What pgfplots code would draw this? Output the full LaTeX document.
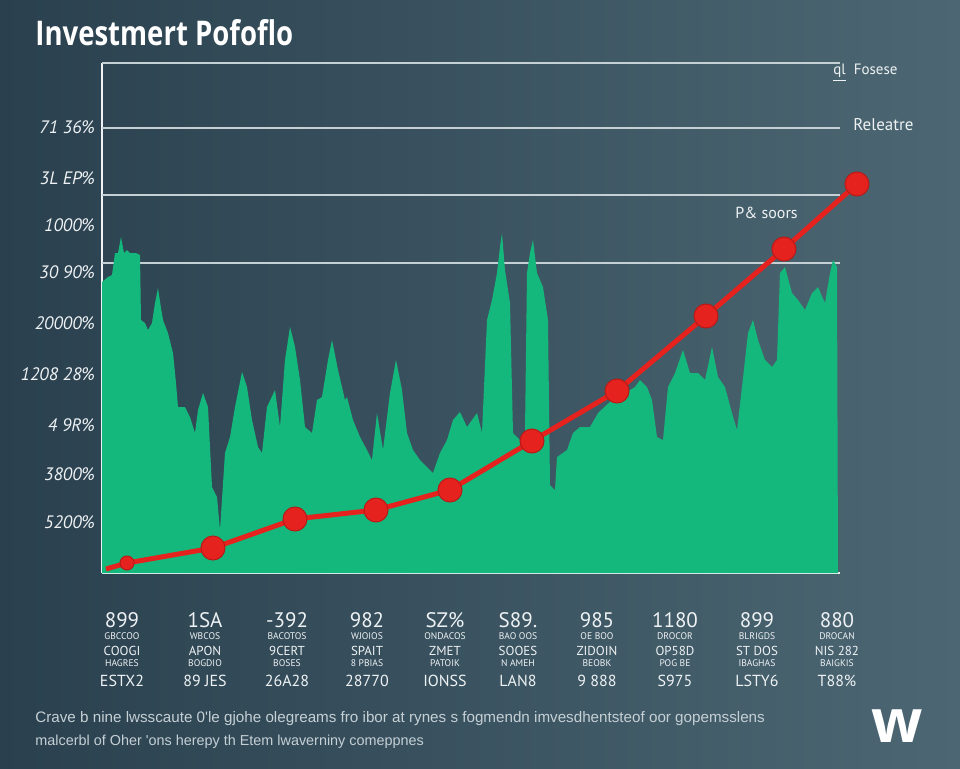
\documentclass[border=0pt]{standalone}
\usepackage{fontspec}
\setmainfont{PT Sans}
\newfontfamily\titlefont{Open Sans}
\newfontfamily\footfont{Liberation Sans}
\usepackage{pgfplots}
\pgfplotsset{compat=1.18}
\definecolor{bgL}{HTML}{2A404E}
\definecolor{bgR}{HTML}{4C6773}
\definecolor{grn}{HTML}{14B87C}
\definecolor{rd}{HTML}{E5221E}
\definecolor{grd}{HTML}{C5D0D5}
\definecolor{txt}{HTML}{EEF2F4}
\newcommand{\xl}[5]{\vbox{\offinterlineskip\halign{\hfil##\hfil\cr
\fontsize{10.5}{10.5}\selectfont #1\cr\noalign{\kern5.75pt}
\smash{\fontsize{4.8}{4.8}\selectfont #2}\cr\noalign{\kern8pt}
\smash{\fontsize{6.5}{6.5}\selectfont #3}\cr\noalign{\kern5.5pt}
\smash{\fontsize{4.8}{4.8}\selectfont #4}\cr\noalign{\kern9.75pt}
\smash{\fontsize{8}{8}\selectfont #5}\cr}}}
\begin{document}
\begin{tikzpicture}
\shade[left color=bgL, right color=bgR] (0,0) rectangle (480pt,384pt);
\begin{axis}[
  at={(51pt,97.5pt)}, anchor=south west,
  width=369pt, height=255pt, scale only axis,
  xmin=102, xmax=840, ymin=0, ymax=510,
  clip=false,
  axis x line*=bottom, axis y line*=left,
  axis line style={-, txt, line width=1pt},
  major tick length=0pt,
  ytick={446,395,348,301,250,199,148,99,51},
  yticklabels={71 36\%, 3L EP\%, 1000\%, 30 90\%, 20000\%, 1208 28\%, 4 9R\%, 3800\%, 5200\%},
  yticklabel style={font=\fontsize{9}{9}\selectfont\itshape, text=txt},
  extra y ticks={510,445,378,310},
  extra y tick labels={},
  extra y tick style={grid=major, major grid style={grd, line width=1pt}},
  xtick={122,205,287,367,445,518,597,675,757,837},
  xticklabels={
    {\xl{899}{GBCCOO}{COOGI}{HAGRES}{ESTX2}},
    {\xl{1SA}{WBCOS}{APON}{BOGDIO}{89 JES}},
    {\xl{-392}{BACOTOS}{9CERT}{BOSES}{26A28}},
    {\xl{982}{WJOIOS}{SPAIT}{8 PBIAS}{28770}},
    {\xl{SZ\%}{ONDACOS}{ZMET}{PATOIK}{IONSS}},
    {\xl{S89.}{BAO OOS}{SOOES}{N AMEH}{LAN8}},
    {\xl{985}{OE BOO}{ZIDOIN}{BEOBK}{9 888}},
    {\xl{1180}{DROCOR}{OP58D}{POG BE}{S975}},
    {\xl{899}{BLRIGDS}{ST DOS}{IBAGHAS}{LSTY6}},
    {\xl{880}{DROCAN}{NIS 282}{BAIGKIS}{T88\%}}},
  xticklabel style={text=txt, inner sep=0pt, anchor=north, yshift=-19.75pt},
]
\addplot[fill=grn, draw=none] coordinates {
(102,0)(102,291)(108,296)(112,298)(115,320)(118,320)(121,336)(124,320)(127,323)(130,320)(136,320)(140,318)
(141,253)(145,250)(148,243)(152,250)(155,270)(158,285)(161,265)(163,253)(168,240)(173,220)(176,190)
(178,166)(185,166)(190,156)(195,140)(198,163)(203,180)(208,166)(212,86)(217,76)(220,43)(225,120)
(230,136)(235,166)(242,201)(247,186)(252,153)(258,126)(262,120)(267,166)(275,183)(280,146)(285,213)
(290,246)(295,226)(300,193)(305,146)(312,140)(317,173)(322,176)(328,213)(332,233)(338,203)(345,173)
(347,176)(353,153)(360,136)(367,123)(372,113)(377,160)(383,123)(390,180)(396,213)(402,183)(407,140)
(413,123)(420,113)(427,106)(433,100)(440,120)(447,133)(453,153)(460,161)(467,146)(472,153)(477,160)
(482,140)(487,253)(492,273)(497,300)(500,326)(502,340)(505,303)(510,270)(513,140)(520,133)(525,140)
(527,300)(530,320)(533,333)(537,300)(543,286)(548,253)(550,88)(555,83)(557,116)(567,123)(573,140)
(580,146)(590,146)(598,160)(612,173)(625,180)(635,186)(640,193)(647,186)(652,173)(657,136)(663,133)
(668,186)(675,200)(683,223)(690,200)(698,200)(705,193)(712,226)(718,196)(725,186)(732,160)(737,143)
(742,186)(748,240)(753,253)(758,233)(765,213)(772,206)(777,213)(780,300)(785,306)(792,280)(798,273)
(805,263)(812,280)(818,286)(825,270)(830,300)(833,313)(837,306)(838,0)} \closedcycle;
\addplot[rd, line width=2.5pt, mark=*, mark size=6pt, mark options={fill=rd, draw=rd!80!black, line width=0.5pt},
  mark indices={3,...,11}] coordinates {
(106,4)(127,10)(213,25)(295,54)(376,63)(450,83)(532,132)(617,182)(706,257)(784,324)(857,389)};
\addplot[only marks, mark=*, mark size=3.5pt, mark options={fill=rd, draw=rd!80!black, line width=0.5pt}] coordinates {(127,10)};
\end{axis}
\begin{scope}[x=0.5pt, y=-0.5pt, shift={(0pt,384pt)}]
\node[anchor=base west, inner sep=0pt, text=white, font=\titlefont\bfseries\fontsize{17}{17}\selectfont] at (35,46) {\scalebox{0.81}[1]{Investmert Pofoflo}};
\node[anchor=west, inner sep=0pt, text=txt, font=\fontsize{7.5}{7.5}\selectfont] at (833,73) {\underline{ql}\ \ Fosese};
\node[anchor=west, inner sep=0pt, text=txt, font=\fontsize{8.5}{8.5}\selectfont] at (853,125) {Releatre};
\node[anchor=west, inner sep=0pt, text=txt, font=\fontsize{8}{8}\selectfont] at (735,213) {P\& soors};
\node[anchor=base west, inner sep=0pt, text=grd, font=\footfont\fontsize{7.6}{7.6}\selectfont] at (35,722) {Crave b nine lwsscaute 0'le gjohe olegreams fro ibor at rynes s fogmendn imvesdhentsteof oor gopemsslens};
\node[anchor=base west, inner sep=0pt, text=grd, font=\footfont\fontsize{7.2}{7.2}\selectfont] at (35,745) {malcerbl of Oher 'ons herepy th Etem lwaverniny comeppnes};
\node[anchor=center, inner sep=0pt, text=white, font=\titlefont\bfseries\fontsize{30}{30}\selectfont] at (897,726) {w};
\end{scope}
\pgfresetboundingbox
\path (0,0) rectangle (480pt,384pt);
\end{tikzpicture}
\end{document}
